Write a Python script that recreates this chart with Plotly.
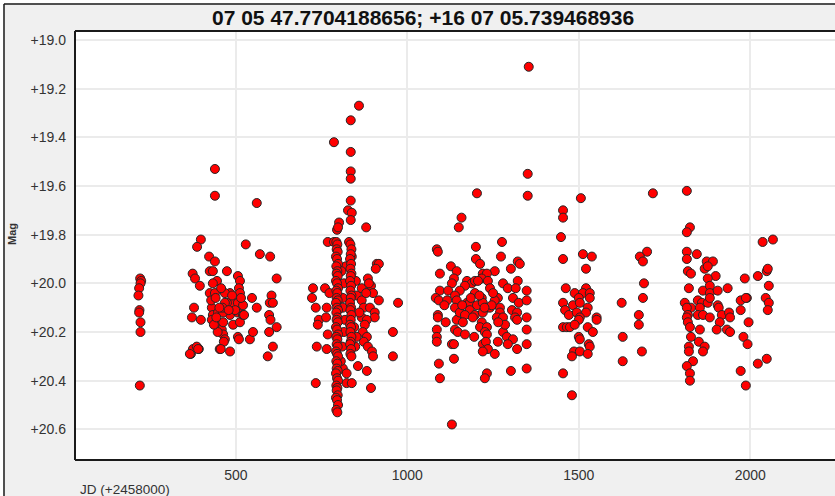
import plotly.graph_objects as go

title_text = "07 05 47.7704188656; +16 07 05.739468936"
x_label = "JD (+2458000)"
y_label = "Mag"
x_ticks = [500, 1000, 1500, 2000]
y_ticks = [19.0, 19.2, 19.4, 19.6, 19.8, 20.0, 20.2, 20.4, 20.6]
y_tick_text = ["+19.0", "+19.2", "+19.4", "+19.6", "+19.8", "+20.0", "+20.2", "+20.4", "+20.6"]

# Season A
a_jd = [221, 224, 222, 218, 216, 219, 218, 222, 222, 220]
a_mag = [19.98, 19.99, 20.00, 20.02, 20.05, 20.11, 20.12, 20.16, 20.20, 20.42]

# Season B
b_jd = [374, 381, 395, 378, 372, 398, 369, 375, 386, 392,
        422, 439, 424, 433, 445, 433, 424, 439, 430, 433, 448, 430, 454, 459, 463, 468, 453, 483,
        474, 483, 492, 474, 483, 492,
        506, 512, 509, 512, 506, 506, 521, 512, 521, 506,
        541, 550, 547, 561, 570, 600, 619, 604, 599, 608, 597, 601, 619, 597, 608, 593,
        439, 439, 561, 398, 387, 529,
        468, 489, 468, 524, 465, 456, 463, 463, 509, 461, 390, 366,
        428, 441, 452, 447, 436, 498, 515, 479, 457, 443]
b_mag = [19.96, 19.98, 20.01, 20.10, 20.14, 20.15, 20.29, 20.27, 20.26, 20.27,
         19.89, 19.91, 19.95, 19.95, 19.99, 20.00, 20.04, 20.04, 20.10, 20.13, 20.12, 20.15, 20.17, 20.19, 20.21, 20.23, 20.27, 20.28,
         19.95, 20.04, 20.08, 20.08, 20.13, 20.17,
         19.97, 19.99, 20.02, 20.04, 20.08, 20.12, 20.09, 20.16, 20.13, 20.22,
         20.23, 20.20, 20.06, 20.10, 19.88, 19.89, 19.98, 20.05, 20.08, 20.08, 20.13, 20.15, 20.18, 20.20, 20.26, 20.30,
         19.53, 19.64, 19.67, 19.82, 19.85, 19.84,
         20.04, 20.05, 20.08, 20.13, 20.24, 20.27, 20.12, 20.16, 20.23, 20.10, 20.27, 20.29,
         20.07, 20.06, 20.10, 20.20, 20.17, 20.11, 20.06, 20.11, 20.02, 20.14]

# Season C: scattered points
c_jd = [859, 835, 786, 835, 835, 835, 835, 827, 838, 835, 801, 795, 880, 768, 786, 830, 798, 838,
        911, 917, 908, 821, 885, 894, 900, 917, 973, 725, 760, 722, 733, 765, 773, 742, 739, 763,
        812, 812, 818, 853, 867, 867, 873, 867, 891, 905, 905, 882, 876, 870, 882, 873, 885, 897,
        900, 768, 765, 736, 958, 958, 856, 882, 812, 823, 823, 838, 733, 894, 806, 808, 815, 850,
        860, 845, 852, 848, 880, 888, 815, 810]
c_mag = [19.27, 19.33, 19.42, 19.46, 19.54, 19.57, 19.66, 19.70, 19.71, 19.74, 19.75, 19.78, 19.77, 19.83, 19.83, 19.83, 19.77, 19.89,
         19.92, 19.92, 19.94, 19.93, 19.98, 20.01, 20.04, 20.07, 20.08, 20.02, 20.02, 20.06, 20.10, 20.10, 20.04, 20.15, 20.17, 20.14,
         20.06, 20.10, 20.15, 20.05, 20.02, 20.07, 20.10, 20.14, 20.10, 20.12, 20.14, 20.15, 20.17, 20.20, 20.22, 20.24, 20.26, 20.28,
         20.30, 20.21, 20.27, 20.26, 20.20, 20.30, 20.34, 20.36, 20.35, 20.37, 20.41, 20.41, 20.41, 20.43, 20.32, 19.95, 20.00, 19.99,
         20.12, 20.18, 20.22, 20.26, 20.04, 20.00, 20.20, 20.26]

# Season C: dense column near JD 795
c1_jd = [793, 796, 794, 797, 792, 795, 798, 793, 796, 794, 797, 792, 795, 798, 793, 796, 794, 797,
         792, 795, 798, 793, 796, 794, 797, 792, 795, 798, 793, 796, 794, 797, 792, 795, 798, 793,
         796, 794, 797, 792, 795, 798, 793, 796, 794, 797, 792, 795, 798, 793, 796]
c1_mag = [19.83, 19.84, 19.86, 19.87, 19.89, 19.90, 19.92, 19.93, 19.95, 19.96, 19.97, 19.99, 20.00, 20.02, 20.03, 20.04, 20.06, 20.07,
          20.08, 20.10, 20.11, 20.12, 20.14, 20.15, 20.16, 20.18, 20.19, 20.21, 20.22, 20.23, 20.25, 20.26, 20.28, 20.29, 20.30, 20.32,
          20.33, 20.35, 20.36, 20.37, 20.39, 20.40, 20.42, 20.43, 20.44, 20.46, 20.47, 20.48, 20.50, 20.52, 20.53]

# Season C: second column near JD 835
c2_jd = [834, 837, 835, 833, 836, 834, 837, 835, 833, 836, 834, 837, 835, 833, 836, 834, 837, 835,
         833, 836, 834, 837, 835, 833, 836, 834, 837]
c2_mag = [19.84, 19.86, 19.88, 19.90, 19.92, 19.94, 19.96, 19.97, 19.99, 20.01, 20.03, 20.05, 20.06, 20.08, 20.10, 20.11, 20.13, 20.15,
          20.17, 20.18, 20.20, 20.22, 20.24, 20.25, 20.27, 20.29, 20.30]

# Season D
d_jd = [1158, 1150, 1086, 1089, 1200, 1276, 1273, 1200, 1212, 1322, 1328, 1302, 1095, 1127, 1144, 1136, 1130,
        1255, 1220, 1232, 1217, 1235, 1174, 1188, 1197, 1206, 1168, 1279, 1322, 1293, 1316, 1348, 1095, 1119,
        1153, 1197, 1241, 1217, 1083, 1092, 1116, 1139, 1144, 1174, 1182, 1203, 1220, 1232, 1264, 1255, 1308,
        1325, 1348, 1139, 1182, 1197, 1220, 1241, 1270, 1270, 1261, 1279, 1305, 1320, 1314, 1320, 1348, 1089,
        1089, 1112, 1144, 1153, 1168, 1191, 1217, 1212, 1232, 1162, 1086, 1139, 1147, 1168, 1226, 1232, 1279,
        1290, 1308, 1348, 1086, 1086, 1130, 1136, 1220, 1229, 1235, 1220, 1255, 1264, 1293, 1320, 1348, 1092,
        1136, 1095, 1232, 1226, 1302, 1348, 1130, 1354, 1351, 1351, 1203,
        1185, 1210, 1246, 1160, 1285, 1225, 1250, 1108, 1195, 1265]
d_mag = [19.73, 19.77, 19.86, 19.87, 19.85, 19.83, 19.89, 19.90, 19.92, 19.91, 19.92, 19.94, 19.96, 19.93, 19.95, 19.98, 20.00,
         19.95, 19.96, 19.96, 19.98, 19.99, 19.99, 20.00, 19.99, 19.99, 20.01, 20.00, 19.99, 20.02, 20.02, 20.03, 20.03, 20.03,
         20.03, 20.04, 20.02, 20.06, 20.06, 20.07, 20.07, 20.05, 20.07, 20.08, 20.08, 20.09, 20.08, 20.10, 20.06, 20.07, 20.06,
         20.08, 20.07, 20.10, 20.11, 20.13, 20.12, 20.10, 20.10, 20.12, 20.14, 20.14, 20.11, 20.12, 20.14, 20.15, 20.14, 20.13,
         20.14, 20.16, 20.15, 20.12, 20.13, 20.14, 20.16, 20.18, 20.18, 20.16, 20.19, 20.19, 20.20, 20.21, 20.20, 20.21, 20.20,
         20.22, 20.23, 20.19, 20.22, 20.24, 20.25, 20.25, 20.25, 20.24, 20.27, 20.28, 20.29, 20.24, 20.25, 20.27, 20.25, 20.33,
         20.31, 20.39, 20.37, 20.39, 20.36, 20.35, 20.58, 19.11, 19.55, 19.64, 19.63,
         20.06, 20.05, 20.09, 20.09, 20.17, 20.10, 20.04, 20.09, 20.22, 20.16]

# Season E
e_jd = [1506, 1454, 1454, 1448, 1454, 1512, 1538, 1521, 1462, 1488, 1521, 1512, 1532, 1500, 1532, 1454, 1483,
        1503, 1526, 1460, 1471, 1494, 1521, 1552, 1552, 1503, 1500, 1454, 1465, 1474, 1488, 1526, 1541, 1500,
        1503, 1529, 1532, 1486, 1480, 1503, 1526, 1454, 1480,
        1716, 1699, 1678, 1687, 1690, 1687, 1625, 1675, 1675, 1628, 1684, 1628]
e_mag = [19.65, 19.70, 19.73, 19.81, 19.90, 19.88, 19.89, 19.94, 20.02, 20.04, 20.02, 20.04, 20.04, 20.06, 20.06, 20.08, 20.09,
         20.08, 20.10, 20.11, 20.13, 20.12, 20.12, 20.14, 20.15, 20.14, 20.15, 20.18, 20.18, 20.18, 20.17, 20.18, 20.20, 20.22,
         20.23, 20.25, 20.26, 20.28, 20.30, 20.28, 20.29, 20.37, 20.46,
         19.63, 19.87, 19.89, 19.91, 20.00, 20.06, 20.08, 20.13, 20.17, 20.22, 20.28, 20.32]

# Season F
f_jd = [1815, 1824, 1815, 1815, 1844, 1815, 1818, 1827, 1873, 1891, 1867, 1876, 1899, 1876, 1821, 1862, 1882,
        1882, 1905, 1934, 1984, 2022, 2048, 2051, 2054, 2036, 2066, 1809, 1827, 1847, 1859, 1876, 1882, 1853,
        1905, 1908, 1847, 1862, 1882, 1917, 1938, 1941, 1972, 1990, 1987, 1972, 2045, 2054, 2051, 1815, 1818,
        1815, 1818, 1824, 1911, 1853, 1902, 1932, 1941, 1995, 1827, 1850, 1867, 1862, 1980, 1992, 1821, 1821,
        1833, 1815, 1824, 1824, 1972, 1987, 2022, 2048]
f_mag = [19.62, 19.77, 19.79, 19.87, 19.88, 19.90, 19.95, 19.96, 19.91, 19.91, 19.94, 19.93, 19.97, 19.98, 20.02, 20.03, 20.01,
         20.04, 20.03, 20.02, 19.98, 19.97, 19.95, 19.94, 20.01, 19.83, 19.82, 20.08, 20.10, 20.07, 20.08, 20.08, 20.06, 20.10,
         20.09, 20.10, 20.13, 20.13, 20.14, 20.13, 20.12, 20.14, 20.07, 20.06, 20.06, 20.11, 20.06, 20.08, 20.11, 20.10, 20.13,
         20.14, 20.16, 20.18, 20.16, 20.19, 20.19, 20.19, 20.20, 20.16, 20.22, 20.24, 20.26, 20.28, 20.22, 20.25, 20.26, 20.28,
         20.32, 20.34, 20.37, 20.40, 20.36, 20.42, 20.33, 20.31]

all_jd = a_jd + b_jd + c_jd + c1_jd + c2_jd + d_jd + e_jd + f_jd
all_mag = a_mag + b_mag + c_mag + c1_mag + c2_mag + d_mag + e_mag + f_mag

W, H = 835, 496
L, T, B = 75, 31, 460
PW, PH = W - L, B - T

def px(x):
    return (x - L) / PW

def py(y):
    return (B - y) / PH

fig = go.Figure()
fig.add_trace(go.Scatter(
    x=all_jd, y=all_mag, mode="markers",
    marker=dict(size=9, color="#FF0000", line=dict(color="#262626", width=1)),
    hoverinfo="x+y", showlegend=False,
))

font_main = "Liberation Sans, Arial, sans-serif"

fig.update_layout(
    width=W, height=H,
    margin=dict(l=L, r=0, t=T, b=H - B, pad=0),
    paper_bgcolor="#F0F0F0",
    plot_bgcolor="#FFFFFF",
    font=dict(family=font_main, size=14, color="#333333"),
    xaxis=dict(
        range=[31, 2247], tickvals=x_ticks, ticktext=[str(v) for v in x_ticks],
        showgrid=True, gridcolor="#EBEBEB", gridwidth=2, zeroline=False,
        showline=False, ticks="", ticklabelstandoff=5,
        tickfont=dict(family=font_main, size=14, color="#333333"),
    ),
    yaxis=dict(
        range=[20.726, 18.963], tickvals=y_ticks, ticktext=y_tick_text,
        showgrid=True, gridcolor="#EBEBEB", gridwidth=2, zeroline=False,
        showline=False, ticks="", ticklabelstandoff=8,
        tickfont=dict(family=font_main, size=14, color="#333333"),
    ),
    shapes=[
        dict(type="line", xref="paper", yref="paper", x0=0, x1=0, y0=0, y1=1,
             line=dict(color="#1a1a1a", width=2)),
        dict(type="line", xref="paper", yref="paper", x0=0, x1=1.01, y0=0, y1=0,
             line=dict(color="#1a1a1a", width=2)),
        dict(type="line", xref="paper", yref="paper", x0=0, x1=1.01, y0=1, y1=1,
             line=dict(color="#1a1a1a", width=2)),
        dict(type="line", xref="paper", yref="paper", x0=px(4), x1=px(4), y0=py(500), y1=py(4),
             line=dict(color="#1a1a1a", width=1.5)),
        dict(type="line", xref="paper", yref="paper", x0=px(4), x1=px(840), y0=py(4), y1=py(4),
             line=dict(color="#1a1a1a", width=1.5)),
        dict(type="rect", xref="paper", yref="paper", x0=px(-2), x1=px(3.2), y0=py(500), y1=py(-2),
             fillcolor="#FFFFFF", line=dict(width=0), layer="below"),
        dict(type="rect", xref="paper", yref="paper", x0=px(-2), x1=px(840), y0=py(3.2), y1=py(-2),
             fillcolor="#FFFFFF", line=dict(width=0), layer="below"),
    ],
    annotations=[
        dict(text="<b>" + title_text + "</b>", xref="paper", yref="paper",
             x=px(423), y=py(17), xanchor="center", yanchor="middle", showarrow=False,
             font=dict(family=font_main, size=21, color="#111111")),
        dict(text=x_label, xref="paper", yref="paper",
             x=px(78), y=py(489), xanchor="left", yanchor="middle", showarrow=False,
             font=dict(family=font_main, size=13.5, color="#333333")),
        dict(text="<b>" + y_label + "</b>", xref="paper", yref="paper",
             x=px(12), y=py(234), xanchor="center", yanchor="middle", showarrow=False,
             textangle=-90, font=dict(family=font_main, size=11, color="#333333")),
    ],
)

fig.write_html("out.html", config={"displayModeBar": False},
               post_script="document.body.style.margin='0';document.body.style.overflow='hidden';")
